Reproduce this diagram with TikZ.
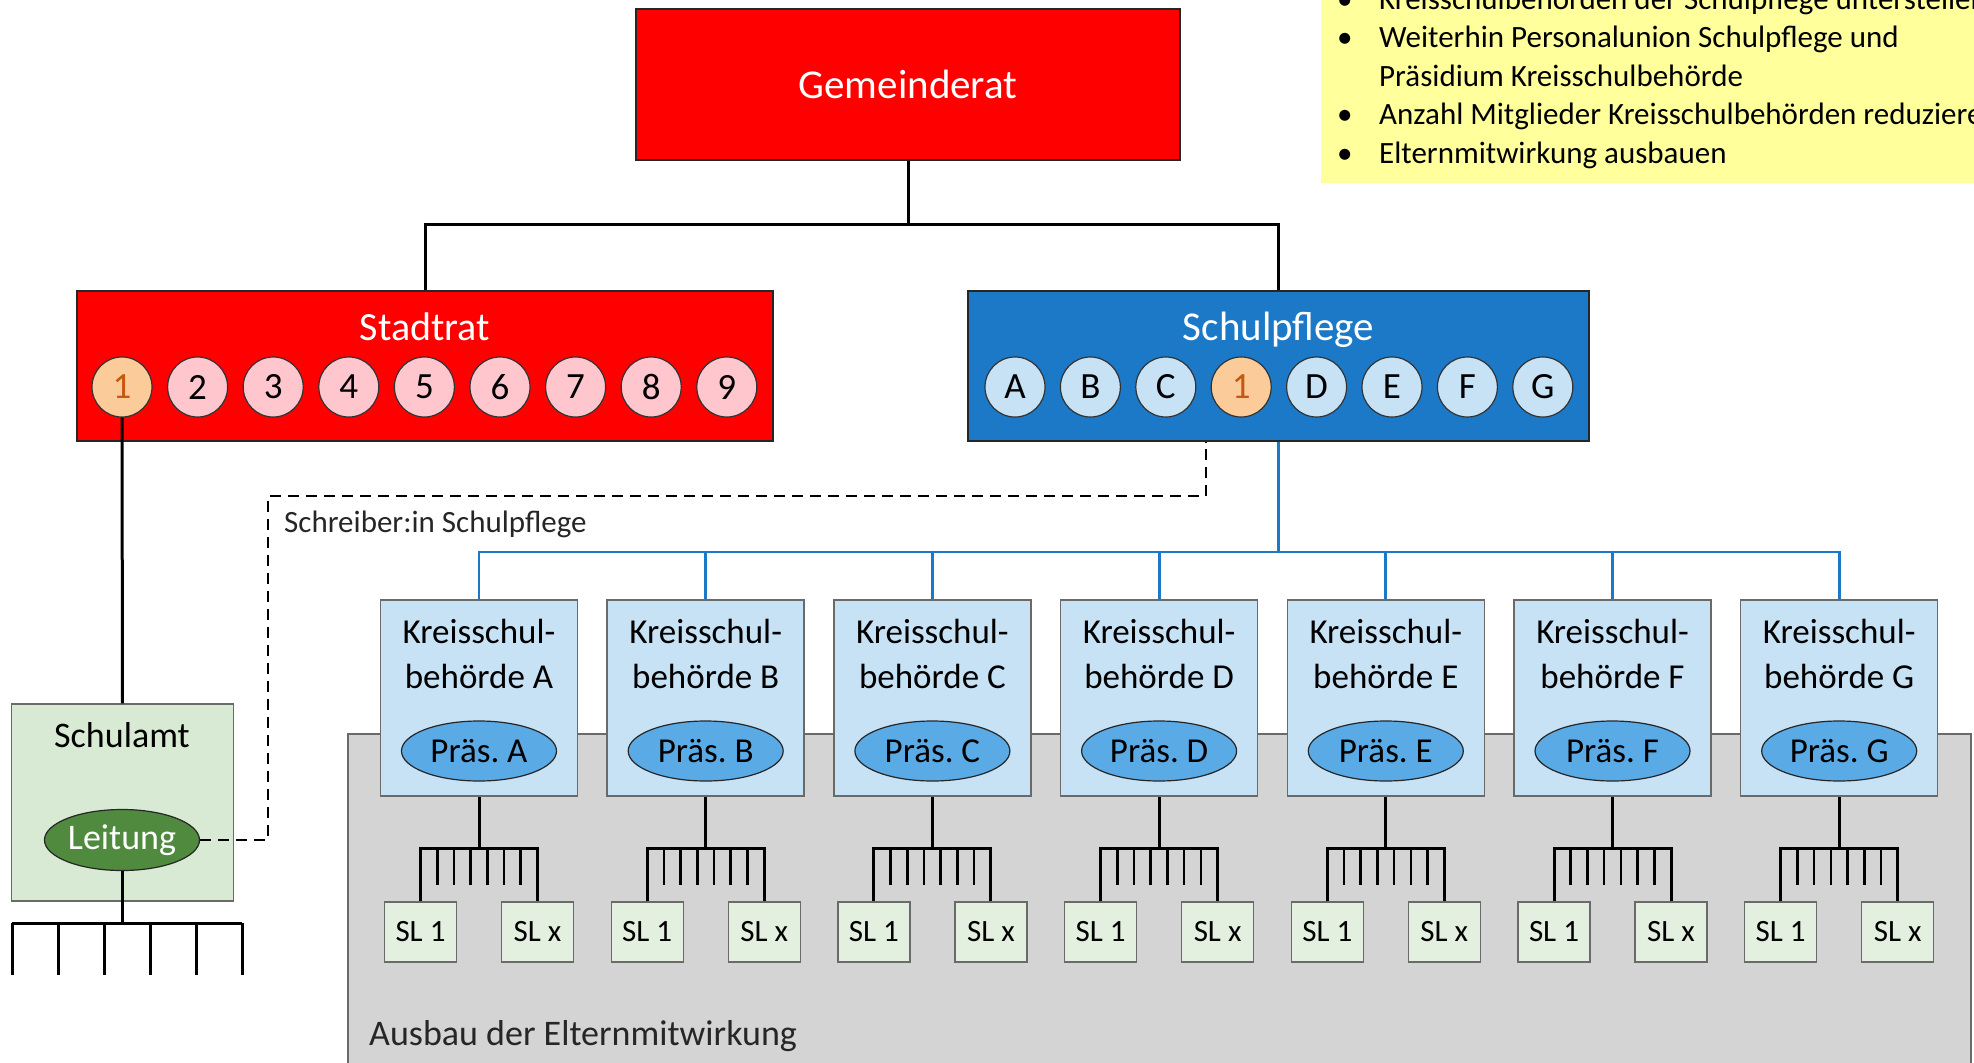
\documentclass[tikz,border=0pt]{standalone}
\usepackage{fontspec}
\setmainfont{Carlito}
\usetikzlibrary{shapes.geometric}
\newcommand{\fsz}[1]{\fontsize{#1}{#1}\selectfont}

\definecolor{redbox}{HTML}{FE0000}
\definecolor{spblue}{HTML}{1B79C7}
\definecolor{pinkc}{HTML}{FFC6CE}
\definecolor{orangec}{HTML}{FBCB9A}
\definecolor{orangetxt}{HTML}{C65911}
\definecolor{lightblue}{HTML}{C7E1F5}
\definecolor{praesblue}{HTML}{5AAAE6}
\definecolor{slgreen}{HTML}{E3EFDF}
\definecolor{amtgreen}{HTML}{D9EAD4}
\definecolor{leitgreen}{HTML}{4F8A3E}
\definecolor{bggray}{HTML}{D4D4D4}
\definecolor{edgegray}{HTML}{6A6A6A}
\definecolor{notebg}{HTML}{FFFF9B}
\definecolor{softtext}{HTML}{262626}

\tikzset{
  box/.style={rectangle, draw=black!85, line width=1.5pt, inner sep=0pt},
  member/.style={circle, draw=black!80, line width=1.2pt, minimum size=60pt,
                 inner sep=0pt, font=\fsz{37}},
  ksbox/.style={rectangle, draw=edgegray, line width=1.5pt, fill=lightblue,
                minimum width=197pt, minimum height=196pt, inner sep=0pt},
  praes/.style={ellipse, draw=black!85, line width=1.2pt, fill=praesblue,
                minimum width=155pt, minimum height=60pt, inner sep=0pt, font=\fsz{35}},
  slbox/.style={rectangle, draw=edgegray, line width=1.3pt, fill=slgreen,
                minimum width=72pt, minimum height=60pt, inner sep=0pt, font=\fsz{31}},
  conn/.style={line width=3pt, black},
  tick/.style={line width=2.6pt, black},
  bconn/.style={line width=2.8pt, spblue},
  dashline/.style={line width=2.5pt, black, dash pattern=on 11pt off 7pt},
  notetext/.style={anchor=base west, inner sep=0pt, font=\fsz{31}},
}

\begin{document}
\begin{tikzpicture}[x=1pt,y=-1pt]
\useasboundingbox (0,0) rectangle (1974,1063);
\clip (0,0) rectangle (1974,1063);

% parent participation area
\fill[bggray, draw=edgegray, line width=1.5pt] (348,734) rectangle (1971,1075);
\node[anchor=base west, inner sep=0pt, font=\fsz{36}, text=softtext] (ausbau) at (369,1045) {Ausbau der Elternmitwirkung};

% notes
\fill[notebg] (1321,-5) rectangle (1980,183);
\node[notetext] (n1b) at (1337,9) {•};
\node[notetext] (n1) at (1379,9) {Kreisschulbehörden der Schulpflege unterstellen};
\node[notetext] (n2b) at (1337,47) {•};
\node[notetext] (n2) at (1379,47) {Weiterhin Personalunion Schulpflege und};
\node[notetext] (n3) at (1379,86) {Präsidium Kreisschulbehörde};
\node[notetext] (n4b) at (1337,124) {•};
\node[notetext] (n4) at (1379,124) {Anzahl Mitglieder Kreisschulbehörden reduzieren};
\node[notetext] (n5b) at (1337,163) {•};
\node[notetext] (n5) at (1379,163) {Elternmitwirkung ausbauen};

% Gemeinderat
\node[box, fill=redbox, minimum width=544pt, minimum height=151pt, text=white, font=\fsz{41}] (gr) at (908,84.5) {Gemeinderat};

% Stadtrat
\node[box, fill=redbox, minimum width=696pt, minimum height=150pt] (st) at (425,366) {};
\node[text=white, font=\fsz{40}, inner sep=0pt, anchor=base] (stt) at (425,340) {Stadtrat};
\node[member, fill=orangec, text=orangetxt] (s1) at (122,387) {1};
\foreach \i in {2,...,9}
  \node[member, fill=pinkc] (s\i) at ({122+(\i-1)*75.6},387) {\i};

% Schulpflege
\node[box, fill=spblue, minimum width=621pt, minimum height=150pt] (sp) at (1278.5,366) {};
\node[text=white, font=\fsz{41}, inner sep=0pt, anchor=base] (spt) at (1278.5,340) {Schulpflege};
\foreach \l [count=\k from 0] in {A,B,C,1,D,E,F,G}{
  \ifnum\k=3
    \node[member, fill=orangec, text=orangetxt] (p\k) at ({1015+\k*75.4},387) {\l};
  \else
    \node[member, fill=lightblue] (p\k) at ({1015+\k*75.4},387) {\l};
  \fi
}

% Schulamt
\node[rectangle, draw=edgegray, line width=1.5pt, fill=amtgreen, minimum width=222pt,
      minimum height=197pt, inner sep=0pt] (sa) at (122.5,802.5) {};
\node[font=\fsz{36}, inner sep=0pt] (sat) at (122,735) {Schulamt};
\node[ellipse, draw=black!85, line width=1.2pt, fill=leitgreen, text=white, minimum width=155pt,
      minimum height=61pt, inner sep=0pt, font=\fsz{36}] (lt) at (122,840) {Leitung};

% connectors from Gemeinderat
\coordinate (gj) at (908,224);
\draw[conn] (gr.south) -- (gj);
\draw[conn] (gj) -| (st.north);
\draw[conn] (gj) -| (sp.north);

% Stadtrat member to Schulamt
\draw[conn] (s1.south) -- (sa.north);

% Schulamt subordinate units
\coordinate (lj) at (lt.south |- 0,923);
\draw[conn] (lt.south) -- (lj);
\draw[conn] (12,923) -- (242,923);
\foreach \t in {0,...,5}
  \draw[conn] ({12+\t*46},923) -- ({12+\t*46},975);

% secretary link
\coordinate (d1) at (268,840);
\coordinate (d2) at (268,496);
\coordinate (d3) at (1206,496);
\draw[dashline] (lt.east) -- (d1) -- (d2) -- (d3) -- (d3 |- sp.south);
\node[anchor=base west, inner sep=0pt, font=\fsz{31}, text=softtext] (schr) at (284,532) {Schreiber:in Schulpflege};

% Kreisschulbehoerden
\coordinate (bj) at (1278.5,552);
\draw[bconn] (sp.south) -- (bj);
\foreach \L [count=\k from 0] in {A,B,C,D,E,F,G}{
  \pgfmathsetmacro{\cx}{479+\k*226.7}
  \node[ksbox] (k\L) at (\cx,698) {};
  \node[align=center, font=\fontsize{35}{45}\selectfont, inner sep=0pt] (kt\L) at (\cx,654) {Kreisschul-\\behörde \L};
  \node[praes] (pr\L) at (\cx,751) {Präs.~\L};
  \node[slbox] (sla\L) at (\cx-58.5,932) {SL 1};
  \node[slbox] (slb\L) at (\cx+58.5,932) {SL x};
  \draw[bconn] (bj) -| (k\L.north);
  \coordinate (j\L) at (\cx,848);
  \draw[conn] (k\L.south) -- (j\L);
  \draw[conn] (sla\L.north) -- (sla\L.north |- j\L) -- (slb\L.north |- j\L) -- (slb\L.north);
  \foreach \t in {1,...,6}
    \draw[tick] ({\cx-58.5+\t*16.71},848) -- ({\cx-58.5+\t*16.71},885);
}
\end{tikzpicture}
\end{document}
